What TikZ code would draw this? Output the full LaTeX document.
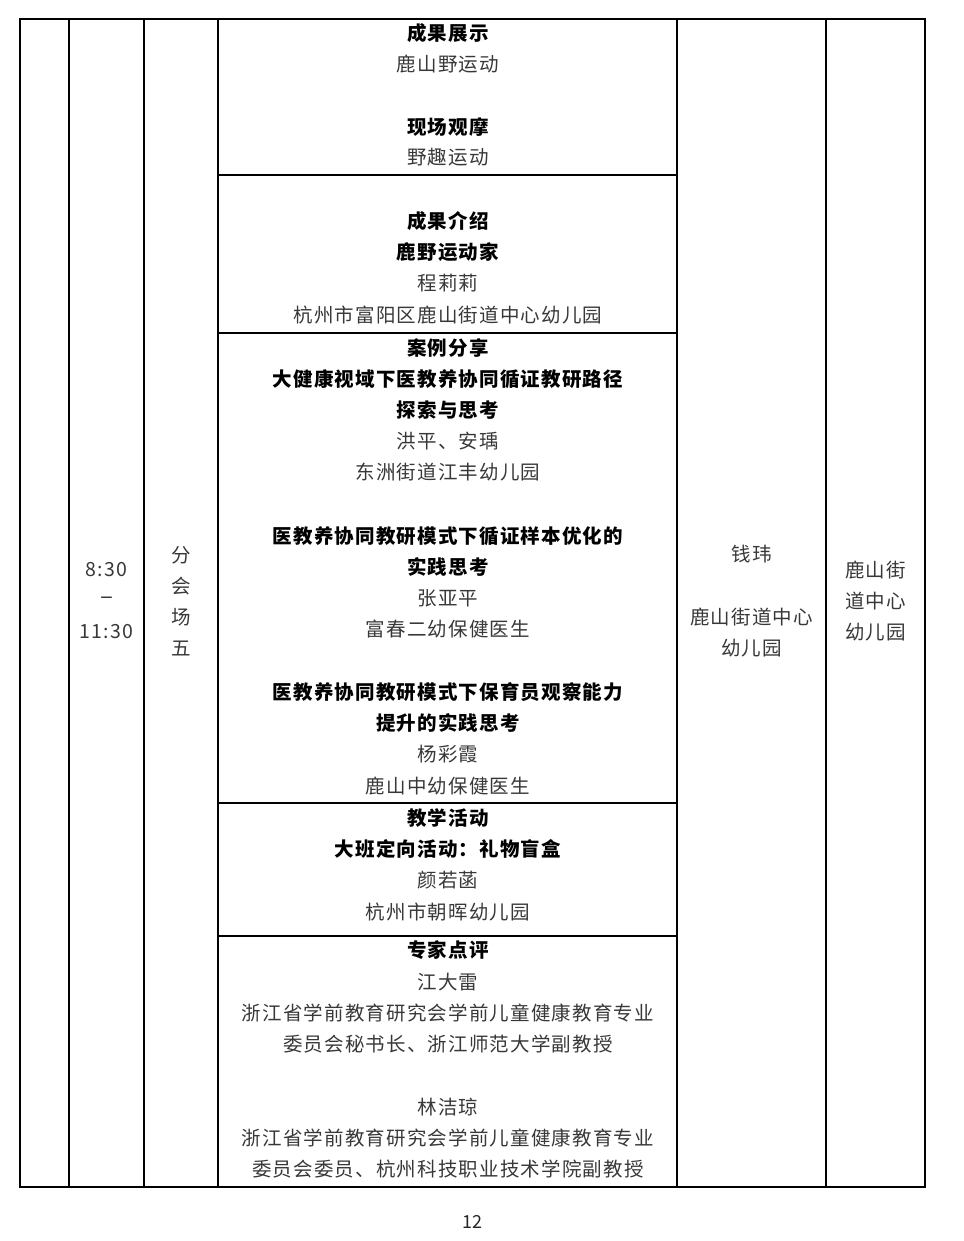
\documentclass[tikz,border=0pt]{standalone}
\usepackage{fontspec}
\newfontfamily\cjk[LetterSpace=6]{Noto Sans CJK SC}
\newfontfamily\cjkplain{Noto Sans CJK SC}
\begin{document}
\tikzset{
  gridline/.style={line width=1.3pt, black},
  reg/.style={font=\cjk\fontsize{19.5}{24}\selectfont, text=black!78, inner sep=0pt, anchor=center},
  hd/.style={font=\cjk\bfseries\fontsize{19.5}{24}\selectfont, text=black, inner sep=0pt, anchor=center},
  pg/.style={font=\cjkplain\fontsize{18}{20}\selectfont, text=black!85, inner sep=0pt, anchor=center},
}
\begin{tikzpicture}[x=1pt,y=-1pt]
\useasboundingbox (0,0) rectangle (963,1241);
% table grid
\draw[gridline] (20,19) rectangle (925,1187);
\foreach \xx in {69,144,218,677,826} \draw[gridline] (\xx,19) -- (\xx,1187);
\foreach \yy in {175,333,803,936} \draw[gridline] (218,\yy) -- (677,\yy);

% row 1
\node[hd]  (r1a) at (448,33)  {成果展示};
\node[reg] (r1b) at (448,64)  {鹿山野运动};
\node[hd]  (r1c) at (448,127) {现场观摩};
\node[reg] (r1d) at (448,157) {野趣运动};
% row 2
\node[hd]  (r2a) at (448,221) {成果介绍};
\node[hd]  (r2b) at (448,252) {鹿野运动家};
\node[reg] (r2c) at (448,283) {程莉莉};
\node[reg] (r2d) at (448,315) {杭州市富阳区鹿山街道中心幼儿园};
% row 3
\node[hd]  (r3a) at (448,348) {案例分享};
\node[hd]  (r3b) at (448,379) {大健康视域下医教养协同循证教研路径};
\node[hd]  (r3c) at (448,410) {探索与思考};
\node[reg] (r3d) at (448,441) {洪平、安瑀};
\node[reg] (r3e) at (448,472) {东洲街道江丰幼儿园};
\node[hd]  (r3f) at (448,536) {医教养协同教研模式下循证样本优化的};
\node[hd]  (r3g) at (448,567) {实践思考};
\node[reg] (r3h) at (448,598) {张亚平};
\node[reg] (r3i) at (448,629) {富春二幼保健医生};
\node[hd]  (r3j) at (448,692) {医教养协同教研模式下保育员观察能力};
\node[hd]  (r3k) at (448,723) {提升的实践思考};
\node[reg] (r3l) at (448,754) {杨彩霞};
\node[reg] (r3m) at (448,786) {鹿山中幼保健医生};
% row 4
\node[hd]  (r4a) at (448,818) {教学活动};
\node[hd]  (r4b) at (448,849) {大班定向活动：礼物盲盒};
\node[reg] (r4c) at (448,880) {颜若菡};
\node[reg] (r4d) at (448,912) {杭州市朝晖幼儿园};
% row 5
\node[hd]  (r5a) at (448,950)  {专家点评};
\node[reg] (r5b) at (448,982)  {江大雷};
\node[reg] (r5c) at (448,1013) {浙江省学前教育研究会学前儿童健康教育专业};
\node[reg] (r5d) at (448,1044) {委员会秘书长、浙江师范大学副教授};
\node[reg] (r5e) at (448,1107) {林洁琼};
\node[reg] (r5f) at (448,1138) {浙江省学前教育研究会学前儿童健康教育专业};
\node[reg] (r5g) at (448,1169) {委员会委员、杭州科技职业技术学院副教授};

% time column
\node[reg] (t1) at (106.5,570) {8:30};
\node[reg, font=\cjkplain\fontsize{24}{24}\selectfont] (t2) at (106.5,601) {–};
\node[reg] (t3) at (106.5,632) {11:30};
% venue column
\node[reg] (v1) at (181,555) {分};
\node[reg] (v2) at (181,586) {会};
\node[reg] (v3) at (181,617) {场};
\node[reg] (v4) at (181,648) {五};
% host column
\node[reg] (h1) at (751.5,554) {钱玮};
\node[reg] (h2) at (751.5,617) {鹿山街道中心};
\node[reg] (h3) at (751.5,648) {幼儿园};
% place column
\node[reg] (p1) at (875.5,570) {鹿山街};
\node[reg] (p2) at (875.5,601) {道中心};
\node[reg] (p3) at (875.5,632) {幼儿园};

% page number
\node[pg] (pn) at (472.5,1222) {12};
\end{tikzpicture}
\end{document}
